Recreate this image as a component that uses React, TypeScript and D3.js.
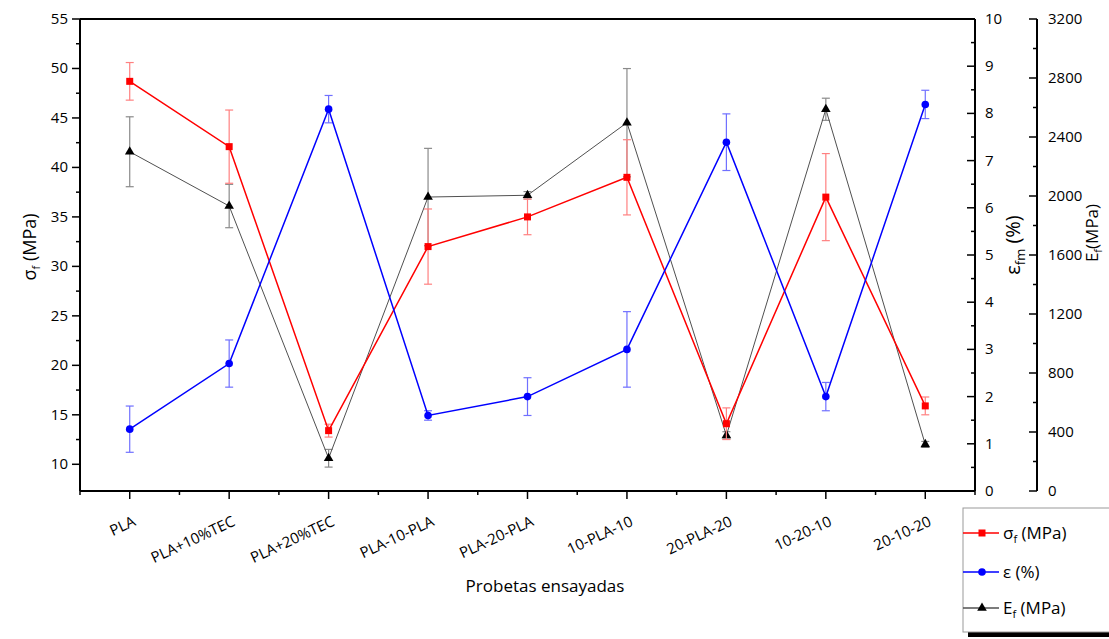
import React from "react";
import * as d3 from "d3";

// Flexural test results per specimen type
const categories = [
  "PLA",
  "PLA+10%TEC",
  "PLA+20%TEC",
  "PLA-10-PLA",
  "PLA-20-PLA",
  "10-PLA-10",
  "20-PLA-20",
  "10-20-10",
  "20-10-20",
];

// Flexural strength σf (MPa) and its deviation
const sigmaValues = [48.7, 42.1, 13.4, 32.0, 35.0, 39.0, 14.1, 37.0, 15.9];
const sigmaErrors = [1.9, 3.7, 0.65, 3.8, 1.8, 3.8, 1.6, 4.4, 0.9];

// Strain at maximum stress εfm (%) and its deviation
const strainValues = [1.31, 2.7, 8.09, 1.6, 2.0, 3.0, 7.39, 2.0, 8.19];
const strainErrors = [0.49, 0.5, 0.29, 0.1, 0.4, 0.8, 0.6, 0.3, 0.3];

// Flexural modulus Ef (MPa) and its deviation
const modulusValues = [2300, 1932, 222, 1993, 2005, 2497, 377, 2588, 316];
const modulusErrors = [237, 147, 60, 330, 25, 367, 25, 75, 20];

const sigmaTicks = [10, 15, 20, 25, 30, 35, 40, 45, 50, 55];
const strainTicks = [0, 1, 2, 3, 4, 5, 6, 7, 8, 9, 10];
const modulusTicks = [0, 400, 800, 1200, 1600, 2000, 2400, 2800, 3200];

const FONT = "'Open Sans', 'Liberation Sans', sans-serif";

const left = 80;
const right = 975;
const top = 19;
const bottom = 491;
const modulusAxisX = 1037;

const x = d3.scaleLinear().domain([0.5, 9.5]).range([left, right]);
const ySigma = d3.scaleLinear().domain([7.3, 55]).range([bottom, top]);
const yStrain = d3.scaleLinear().domain([0, 10]).range([bottom, top]);
const yModulus = d3.scaleLinear().domain([0, 3200]).range([bottom, top]);

type SeriesProps = {
  values: number[];
  errors: number[];
  y: d3.ScaleLinear<number, number>;
  color: string;
  markerColor: string;
  errColor: string;
  lineWidth: number;
  marker: "square" | "circle" | "triangle";
};

function Marker({ kind, cx, cy, color }: { kind: string; cx: number; cy: number; color: string }) {
  if (kind === "square") {
    return <rect x={cx - 3.5} y={cy - 3.5} width={7} height={7} fill={color} />;
  }
  if (kind === "circle") {
    return <circle cx={cx} cy={cy} r={3.8} fill={color} />;
  }
  const sym = d3.symbol().type(d3.symbolTriangle).size(40)();
  return <path d={sym || ""} transform={`translate(${cx},${cy})`} fill={color} />;
}

function Series({ values, errors, y, color, markerColor, errColor, lineWidth, marker }: SeriesProps) {
  const line = d3
    .line<number>()
    .x((_, i) => x(i + 1))
    .y((d) => y(d));
  return (
    <g>
      {values.map((v, i) => {
        const cx = x(i + 1);
        const y1 = y(v + errors[i]);
        const y2 = y(v - errors[i]);
        return (
          <g key={i} stroke={errColor} strokeWidth={1.2}>
            <line x1={cx} x2={cx} y1={y1} y2={y2} />
            <line x1={cx - 4} x2={cx + 4} y1={y1} y2={y1} />
            <line x1={cx - 4} x2={cx + 4} y1={y2} y2={y2} />
          </g>
        );
      })}
      <path d={line(values) || ""} fill="none" stroke={color} strokeWidth={lineWidth} />
      {values.map((v, i) => (
        <Marker key={i} kind={marker} cx={x(i + 1)} cy={y(v)} color={markerColor} />
      ))}
    </g>
  );
}

export default function App() {
  const xMajor = categories.map((_, i) => i + 1);
  const xMinor = d3.range(0.5, 10, 1);
  const sigmaMinor = d3.range(12.5, 55, 5);
  const strainMinor = d3.range(0.5, 10, 1);
  const modulusMinor = d3.range(200, 3200, 400);

  const legendItems = [
    { label: "σ", sub: "f", tail: " (MPa)", color: "#ff0000", markerColor: "#ff0000", marker: "square" },
    { label: "ε (%)", sub: "", tail: "", color: "#0000ff", markerColor: "#0000ff", marker: "circle" },
    { label: "E", sub: "f", tail: " (MPa)", color: "#505050", markerColor: "#000", marker: "triangle" },
  ];

  return (
    <svg
      width={1109}
      height={639}
      style={{ position: "absolute", left: 0, top: 0, background: "#fff" }}
      fontFamily={FONT}
    >
      <rect width={1109} height={639} fill="#fff" />

      {/* series */}
      <Series
        values={modulusValues}
        errors={modulusErrors}
        y={yModulus}
        color="#505050"
        markerColor="#000"
        errColor="#8a8a8a"
        lineWidth={1}
        marker="triangle"
      />
      <Series
        values={sigmaValues}
        errors={sigmaErrors}
        y={ySigma}
        color="#ff0000"
        markerColor="#ff0000"
        errColor="#ff8080"
        lineWidth={1.5}
        marker="square"
      />
      <Series
        values={strainValues}
        errors={strainErrors}
        y={yStrain}
        color="#0000ff"
        markerColor="#0000ff"
        errColor="#7070ff"
        lineWidth={1.5}
        marker="circle"
      />

      {/* frame */}
      <g stroke="#000" strokeWidth={2} fill="none">
        <line x1={left} x2={right} y1={top} y2={top} />
        <line x1={left} x2={right} y1={bottom} y2={bottom} />
        <line x1={left} x2={left} y1={top} y2={bottom} />
        <line x1={right} x2={right} y1={top} y2={bottom} />
        <line x1={modulusAxisX} x2={modulusAxisX} y1={top} y2={bottom} />
      </g>

      {/* bottom axis */}
      <g stroke="#000" strokeWidth={1.5}>
        {xMajor.map((t) => (
          <line key={t} x1={x(t)} x2={x(t)} y1={bottom} y2={bottom + 8} />
        ))}
        {xMinor.map((t) => (
          <line key={t} x1={x(t)} x2={x(t)} y1={bottom} y2={bottom + 4} />
        ))}
      </g>
      <g fontSize={15} fill="#000">
        {categories.map((c, i) => {
          const ax = x(i + 1) + 7;
          const ay = 525;
          return (
            <text key={c} x={ax} y={ay} textAnchor="end" transform={`rotate(-25 ${ax} ${ay})`}>
              {c}
            </text>
          );
        })}
      </g>
      <text x={545} y={592} fontSize={17} textAnchor="middle" fill="#000">
        Probetas ensayadas
      </text>

      {/* left axis */}
      <g stroke="#000" strokeWidth={1.5}>
        {sigmaTicks.map((t) => (
          <line key={t} x1={left - 8} x2={left} y1={ySigma(t)} y2={ySigma(t)} />
        ))}
        {sigmaMinor.map((t) => (
          <line key={t} x1={left - 4} x2={left} y1={ySigma(t)} y2={ySigma(t)} />
        ))}
      </g>
      <g fontSize={15} fill="#000" textAnchor="end">
        {sigmaTicks.map((t) => (
          <text key={t} x={68} y={ySigma(t) + 5}>
            {t}
          </text>
        ))}
      </g>
      <text transform="translate(36,247) rotate(-90)" fontSize={18} textAnchor="middle" fill="#000">
        σ<tspan fontSize={11} dy={4}>f</tspan>
        <tspan dy={-4}> (MPa)</tspan>
      </text>

      {/* strain axis */}
      <g stroke="#000" strokeWidth={1.5}>
        {strainTicks.map((t) => (
          <line key={t} x1={right - 8} x2={right} y1={yStrain(t)} y2={yStrain(t)} />
        ))}
        {strainMinor.map((t) => (
          <line key={t} x1={right - 4} x2={right} y1={yStrain(t)} y2={yStrain(t)} />
        ))}
      </g>
      <g fontSize={15} fill="#000">
        {strainTicks.map((t) => (
          <text key={t} x={985} y={yStrain(t) + 5}>
            {t}
          </text>
        ))}
      </g>
      <text transform="translate(1020,245) rotate(-90)" fontSize={20} textAnchor="middle" fill="#000">
        ε<tspan fontSize={13} dy={5}>fm</tspan>
        <tspan dy={-5}> (%)</tspan>
      </text>

      {/* modulus axis */}
      <g stroke="#000" strokeWidth={1.5}>
        {modulusTicks.map((t) => (
          <line key={t} x1={modulusAxisX - 8} x2={modulusAxisX} y1={yModulus(t)} y2={yModulus(t)} />
        ))}
        {modulusMinor.map((t) => (
          <line key={t} x1={modulusAxisX - 4} x2={modulusAxisX} y1={yModulus(t)} y2={yModulus(t)} />
        ))}
      </g>
      <g fontSize={15} fill="#000">
        {modulusTicks.map((t) => (
          <text key={t} x={1048} y={yModulus(t) + 5}>
            {t}
          </text>
        ))}
      </g>
      <text transform="translate(1098,233) rotate(-90)" fontSize={17} textAnchor="middle" fill="#000">
        E<tspan fontSize={11} dy={4}>f</tspan>
        <tspan dy={-4}>(MPa)</tspan>
      </text>

      {/* legend */}
      <rect x={968} y={632} width={150} height={5} fill="#000" />
      <rect x={963} y={508} width={155} height={124} fill="#fff" stroke="#999" strokeWidth={1} />
      {legendItems.map((item, i) => {
        const cy = [533, 572, 608][i];
        return (
          <g key={i}>
            <line x1={963} x2={999} y1={cy} y2={cy} stroke={item.color} strokeWidth={1.3} />
            <Marker kind={item.marker} cx={982} cy={cy} color={item.markerColor} />
            <text x={1003} y={cy + 6} fontSize={17} fill="#000">
              {item.label}
              {item.sub && (
                <tspan fontSize={11} dy={4}>
                  {item.sub}
                </tspan>
              )}
              {item.tail && <tspan dy={item.sub ? -4 : 0}>{item.tail}</tspan>}
            </text>
          </g>
        );
      })}
    </svg>
  );
}
